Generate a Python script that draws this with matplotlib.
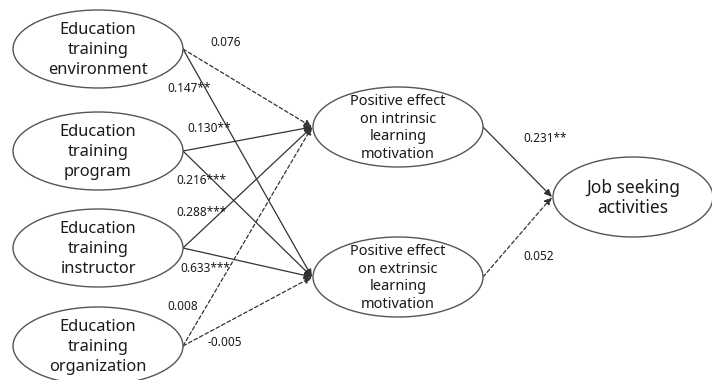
import matplotlib
matplotlib.use("Agg")
import matplotlib.pyplot as plt
from matplotlib.patches import Ellipse

plt.rcParams['font.family'] = ['Noto Sans', 'DejaVu Sans']

# Path model: constructs and standardized path coefficients
sources = ["Education\ntraining\nenvironment", "Education\ntraining\nprogram",
           "Education\ntraining\ninstructor", "Education\ntraining\norganization"]
mediators = ["Positive effect\non intrinsic\nlearning\nmotivation",
             "Positive effect\non extrinsic\nlearning\nmotivation"]
outcome = "Job seeking\nactivities"

# coefficients: source -> (intrinsic, extrinsic)
coef_to_intrinsic = ["0.076", "0.130**", "0.288***", "0.008"]
coef_to_extrinsic = ["0.147**", "0.216***", "0.633***", "-0.005"]
# mediator -> outcome
coef_to_outcome = ["0.231**", "0.052"]

# layout (pixel coordinates, y downward)
W, H = 712, 380
src_centers = [(98, 49), (98, 151), (98, 248), (98, 346)]
src_size = (170, 78)
med_centers = [(398, 127), (398, 277)]
med_size = (170, 80)
out_center = (633, 197)
out_size = (160, 80)

# label anchor positions (left edge, vertical centre)
lab_intr = [(210, 43), (187, 128), (176, 213), (167, 307)]
lab_extr = [(167, 89), (176, 181), (180, 269), (207, 343)]
lab_out = [(523, 138), (523, 257)]

fig = plt.figure(figsize=(W / 100, H / 100), dpi=100)
ax = fig.add_axes([0, 0, 1, 1])
ax.set_xlim(0, W)
ax.set_ylim(H, 0)
ax.axis('off')

edge = '#555555'
txt = '#1a1a1a'


def node(center, size, label, fs, ls):
    ax.add_patch(Ellipse(center, size[0], size[1], facecolor='white',
                         edgecolor=edge, lw=1.0, zorder=2))
    ax.text(center[0], center[1] + 1, label, ha='center', va='center',
            fontsize=fs, color=txt, linespacing=ls, zorder=3)


def path(p0, p1, coef):
    significant = '*' in coef
    ax.annotate('', xy=p1, xytext=p0,
                arrowprops=dict(arrowstyle='-|>,head_length=0.45,head_width=0.2',
                                color='#333333', lw=0.9,
                                linestyle='-' if significant else (0, (3, 2)),
                                shrinkA=0, shrinkB=0),
                zorder=1)


for c, lab in zip(src_centers, sources):
    node(c, src_size, lab, 11.8, 1.32)
for c, lab in zip(med_centers, mediators):
    node(c, med_size, lab, 10.5, 1.22)
node(out_center, out_size, outcome, 12.5, 1.1)

src_right = [(cx + src_size[0] / 2, cy) for cx, cy in src_centers]
med_left = [(cx - med_size[0] / 2 - 1, cy) for cx, cy in med_centers]
med_right = [(cx + med_size[0] / 2, cy) for cx, cy in med_centers]
out_left = (out_center[0] - out_size[0] / 2 - 1, out_center[1])

for i, p in enumerate(src_right):
    path(p, med_left[0], coef_to_intrinsic[i])
    path(p, med_left[1], coef_to_extrinsic[i])
for j, p in enumerate(med_right):
    path(p, out_left, coef_to_outcome[j])

for (x, y), s in zip(lab_intr, coef_to_intrinsic):
    ax.text(x, y, s, ha='left', va='center', fontsize=8.5, color=txt, zorder=4)
for (x, y), s in zip(lab_extr, coef_to_extrinsic):
    ax.text(x, y, s, ha='left', va='center', fontsize=8.5, color=txt, zorder=4)
for (x, y), s in zip(lab_out, coef_to_outcome):
    ax.text(x, y, s, ha='left', va='center', fontsize=8.5, color=txt, zorder=4)

fig.savefig('out.png', dpi=100, facecolor='white')
